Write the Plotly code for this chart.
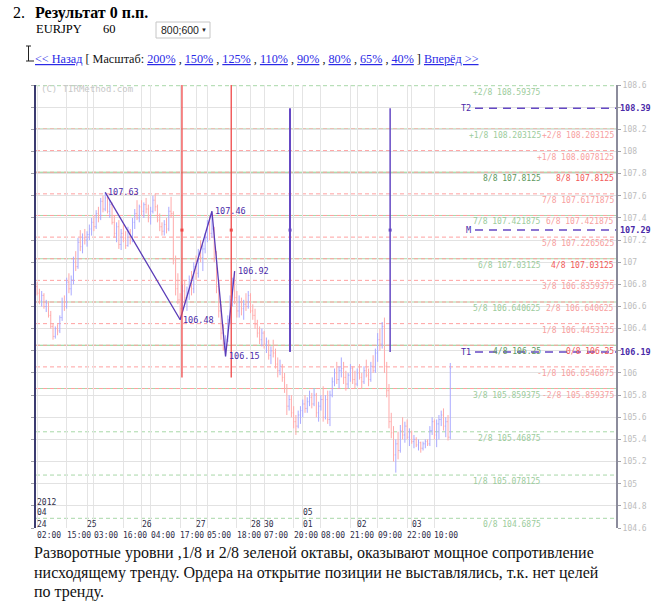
import plotly.graph_objects as go

# ---------------- data ----------------
opens = [106.78,106.72,106.65,106.70,106.60,106.63,106.52,106.42,106.33,106.40,
         106.38,106.50,106.64,106.60,106.82,106.76,106.84,107.00,106.96,107.18,
         107.14,107.22,107.20,107.25,107.30,107.36,107.32,107.44,107.40,107.55,
         107.48,107.58,107.46,107.52,107.36,107.26,107.32,107.16,107.26,107.22,
         107.15,107.28,107.20,107.36,107.44,107.40,107.50,107.46,107.52,107.48,
         107.40,107.46,107.56,107.50,107.38,107.32,107.28,107.34,107.30,107.46,
         107.44,107.02,106.76,106.66,106.58,106.74,106.68,106.72,106.84,106.76,
         106.96,106.90,107.08,107.04,107.12,107.22,107.34,107.26,107.30,107.04,
         106.78,106.56,106.36,106.26,106.30,106.48,106.66,106.80,106.68,106.56,
         106.64,106.58,106.62,106.60,106.70,106.56,106.52,106.44,106.36,106.30,
         106.36,106.26,106.28,106.16,106.20,106.18,106.08,106.02,106.06,105.96,
         105.86,105.70,105.76,105.64,105.56,105.52,105.62,105.66,105.72,105.68,
         105.74,105.78,105.72,105.80,105.64,105.70,105.76,105.60,105.76,105.58,
         105.80,105.92,106.00,105.94,106.02,106.04,105.96,105.90,105.98,106.04,
         105.94,105.90,106.00,105.96,105.92,106.02,105.98,105.94,106.06,106.02,
         106.18,106.30,106.26,106.42,106.06,105.84,105.56,105.46,105.26,105.36,
         105.30,105.48,105.44,105.52,105.42,105.46,105.38,105.40,105.35,105.37,
         105.32,105.36,105.38,105.36,105.48,105.56,105.44,105.54,105.58,105.62,
         105.52,105.56,105.42]
highs = [106.82,106.76,106.74,106.72,106.66,106.65,106.56,106.45,106.42,106.44,
         106.52,106.68,106.70,106.86,106.90,106.88,107.05,107.10,107.22,107.29,
         107.26,107.30,107.28,107.34,107.40,107.42,107.47,107.50,107.58,107.60,
         107.63,107.60,107.56,107.54,107.42,107.36,107.38,107.30,107.34,107.28,
         107.32,107.30,107.40,107.48,107.56,107.52,107.56,107.54,107.58,107.52,
         107.50,107.60,107.62,107.52,107.44,107.36,107.38,107.40,107.50,107.59,
         107.46,107.06,106.90,106.72,106.80,106.84,106.78,106.88,106.92,107.00,
         107.06,107.12,107.20,107.16,107.26,107.38,107.42,107.46,107.32,107.10,
         106.84,106.62,106.44,106.34,106.52,106.70,106.86,106.92,106.74,106.70,
         106.68,106.66,106.72,106.74,106.72,106.62,106.58,106.48,106.42,106.40,
         106.38,106.32,106.30,106.24,106.30,106.22,106.14,106.12,106.08,106.00,
         105.90,105.80,105.80,105.70,105.62,105.66,105.70,105.76,105.80,105.78,
         105.84,105.82,105.86,105.82,105.74,105.80,105.88,105.80,105.84,105.84,
         105.96,106.04,106.10,106.06,106.14,106.10,106.02,106.00,106.08,106.06,
         106.02,106.04,106.08,106.00,106.06,106.12,106.04,106.10,106.16,106.22,
         106.36,106.40,106.46,106.50,106.10,105.90,105.64,105.52,105.40,105.47,
         105.53,105.60,105.56,105.58,105.50,105.48,105.44,105.42,105.40,105.38,
         105.38,105.40,105.40,105.52,105.60,105.58,105.58,105.62,105.66,105.68,
         105.60,105.62,106.09]
lows = [106.70,106.62,106.60,106.58,106.55,106.50,106.40,106.30,106.31,106.34,
        106.36,106.47,106.56,106.58,106.72,106.70,106.80,106.92,106.94,107.10,
        107.08,107.16,107.14,107.20,107.24,107.28,107.30,107.36,107.38,107.45,
        107.46,107.44,107.40,107.34,107.22,107.18,107.12,107.11,107.18,107.12,
        107.14,107.16,107.18,107.30,107.38,107.36,107.42,107.40,107.44,107.36,
        107.34,107.44,107.46,107.36,107.28,107.24,107.24,107.26,107.28,107.40,
        106.98,106.70,106.62,106.48,106.54,106.62,106.56,106.66,106.70,106.72,
        106.84,106.86,107.00,106.92,107.08,107.18,107.20,107.22,107.00,106.72,
        106.50,106.30,106.20,106.15,106.28,106.44,106.60,106.62,106.50,106.50,
        106.52,106.48,106.56,106.58,106.54,106.48,106.40,106.32,106.26,106.24,
        106.22,106.18,106.12,106.08,106.14,106.04,105.96,105.98,105.92,105.82,
        105.62,105.66,105.60,105.50,105.44,105.50,105.54,105.60,105.64,105.64,
        105.70,105.68,105.70,105.60,105.56,105.66,105.56,105.58,105.54,105.52,
        105.78,105.88,105.90,105.86,105.96,105.90,105.84,105.86,105.92,105.90,
        105.86,105.88,105.94,105.86,105.90,105.96,105.88,105.92,106.00,106.00,
        106.10,106.20,106.22,106.00,105.78,105.50,105.41,105.20,105.10,105.22,
        105.28,105.40,105.37,105.40,105.34,105.36,105.32,105.33,105.30,105.28,
        105.30,105.32,105.34,105.34,105.44,105.40,105.33,105.40,105.52,105.48,
        105.42,105.39,105.40]
closes = [106.72,106.65,106.70,106.60,106.63,106.52,106.42,106.33,106.40,106.38,
          106.50,106.64,106.60,106.82,106.76,106.84,107.00,106.96,107.18,107.14,
          107.22,107.20,107.25,107.30,107.36,107.32,107.44,107.40,107.55,107.48,
          107.58,107.46,107.52,107.36,107.26,107.32,107.16,107.26,107.22,107.15,
          107.28,107.20,107.36,107.44,107.40,107.50,107.46,107.52,107.48,107.40,
          107.46,107.56,107.50,107.38,107.32,107.28,107.34,107.30,107.46,107.44,
          107.02,106.76,106.66,106.58,106.74,106.68,106.72,106.84,106.76,106.96,
          106.90,107.08,107.04,107.12,107.22,107.34,107.26,107.30,107.04,106.78,
          106.56,106.36,106.26,106.30,106.48,106.66,106.80,106.68,106.56,106.64,
          106.58,106.62,106.60,106.70,106.56,106.52,106.44,106.36,106.30,106.36,
          106.26,106.28,106.16,106.20,106.18,106.08,106.02,106.06,105.96,105.86,
          105.70,105.76,105.64,105.56,105.52,105.62,105.66,105.72,105.68,105.74,
          105.78,105.72,105.80,105.64,105.70,105.76,105.60,105.76,105.58,105.80,
          105.92,106.00,105.94,106.02,106.04,105.96,105.90,105.98,106.04,105.94,
          105.90,106.00,105.96,105.92,106.02,105.98,105.94,106.06,106.02,106.18,
          106.30,106.26,106.42,106.06,105.84,105.56,105.46,105.26,105.36,105.30,
          105.48,105.44,105.52,105.42,105.46,105.38,105.40,105.35,105.37,105.32,
          105.36,105.38,105.36,105.48,105.56,105.44,105.54,105.58,105.62,105.52,
          105.56,105.42,106.04]

time_tick_bars = [0, 13, 25, 38, 50, 63, 75, 88, 100, 113, 125, 138, 150, 163, 175]
time_tick_labels = ["02:00", "15:00", "03:00", "16:00", "04:00", "17:00", "05:00", "18:00",
                    "07:00", "20:00", "08:00", "21:00", "09:00", "22:00", "10:00"]
day_tick_bars = [0, 22, 46, 70, 94, 100, 117, 141, 165]
day_tick_labels = ["24", "25", "26", "27", "28", "30", "01", "02", "03"]
month_tick_bars = [0, 117]
month_tick_labels = ["04", "05"]
year_tick_bars = [0]
year_tick_labels = ["2012"]

green_names = ["0/8", "1/8", "2/8", "3/8", "4/8", "5/8", "6/8", "7/8", "8/8", "+1/8", "+2/8"]
green_levels = [104.6875, 105.078125, 105.46875, 105.859375, 106.25, 106.640625,
                107.03125, 107.421875, 107.8125, 108.203125, 108.59375]
red_names = ["-2/8", "-1/8", "0/8", "1/8", "2/8", "3/8", "4/8", "5/8", "6/8", "7/8", "8/8", "+1/8", "+2/8"]
red_levels = [105.859375, 106.0546875, 106.25, 106.4453125, 106.640625, 106.8359375,
              107.03125, 107.2265625, 107.421875, 107.6171875, 107.8125, 108.0078125, 108.203125]

target_names = ["T2", "M", "T1"]
target_levels = [108.39, 107.29, 106.19]

zigzag_bars = [30, 63, 77, 83, 87]
zigzag_prices = [107.63, 106.48, 107.46, 106.15, 106.92]

red_vline_bars = [63.8, 85.5]
red_vline_top, red_vline_bottom = 108.61, 105.96
purple_vline_bars = [111.4, 155.5]

ytick_vals = [104.6, 104.8, 105.0, 105.2, 105.4, 105.6, 105.8, 106.0, 106.2, 106.4,
              106.6, 106.8, 107.0, 107.2, 107.4, 107.6, 107.8, 108.0, 108.2, 108.4, 108.6]

title_num = "2."
title_text = "Результат 0 п.п."
symbol_text = "EURJPY"
period_text = "60"
size_text = "800;600"
scale_links = ["200%", "150%", "125%", "110%", "90%", "80%", "65%", "40%"]
paragraph = ["Разворотные уровни ,1/8 и 2/8 зеленой октавы, оказывают мощное сопротивление",
             "нисходящему тренду. Ордера на открытие позиции не выставлялись, т.к. нет целей",
             "по тренду."]

# ---------------- layout helpers ----------------
W, H = 658, 614
L, R, T, B = 36, 42, 85, 86
PW, PH = W - L - R, H - T - B


def px(x):
    return (x - L) / PW


def py(y):
    return (H - B - y) / PH


MONO = "DejaVu Sans Mono"
SERIF = "Liberation Serif"
SANS = "Liberation Sans"
PURPLE = "#6548c4"
PURPLE_TXT = "#4a2aa8"

anns = []
shapes = []


def text(t, x, y, xref="paper", yref="paper", xanchor="left", yanchor="middle",
         size=8, color="#000000", family=MONO, **kw):
    anns.append(dict(text=t, x=x, y=y, xref=xref, yref=yref, xanchor=xanchor,
                     yanchor=yanchor, showarrow=False, borderpad=0,
                     font=dict(size=size, color=color, family=family), **kw))


fig = go.Figure()

# OHLC bars
bar_index = list(range(len(closes)))
fig.add_trace(go.Ohlc(x=bar_index, open=opens, high=highs, low=lows, close=closes,
                      increasing=dict(line=dict(color="#aaaaff", width=1)),
                      decreasing=dict(line=dict(color="#ffaaaa", width=1)),
                      tickwidth=0.35, showlegend=False, hoverinfo="skip"))

# zigzag
fig.add_trace(go.Scatter(x=zigzag_bars, y=zigzag_prices, mode="lines",
                         line=dict(color="#5a3cb8", width=1.3), showlegend=False,
                         hoverinfo="skip"))
for b, p in zip(zigzag_bars, zigzag_prices):
    text(f"{p:.2f}", b, p, xref="x", yref="y", xanchor="left", yanchor="middle",
         size=8.5, color=PURPLE_TXT, xshift=2)

# vertical marker lines
for b in red_vline_bars:
    shapes.append(dict(type="line", xref="x", yref="y", x0=b, x1=b,
                       y0=red_vline_bottom, y1=red_vline_top,
                       line=dict(color="#f04848", width=1.3)))
for i, b in enumerate(purple_vline_bars):
    shapes.append(dict(type="line", xref="x", yref="y", x0=b, x1=b,
                       y0=target_levels[2], y1=target_levels[0],
                       line=dict(color=PURPLE, width=2 if i == 0 else 1.5)))
fig.add_trace(go.Scatter(x=red_vline_bars, y=[target_levels[1]] * len(red_vline_bars),
                         mode="markers", marker=dict(symbol="square", size=3,
                                                     color="#f04848", line=dict(width=0)),
                         showlegend=False, hoverinfo="skip"))
fig.add_trace(go.Scatter(x=purple_vline_bars, y=[target_levels[1]] * len(purple_vline_bars),
                         mode="markers", marker=dict(symbol="square", size=3,
                                                     color=PURPLE, line=dict(width=0)),
                         showlegend=False, hoverinfo="skip"))

# Murrey levels: green octave
green_solid = {"3/8", "4/8", "5/8", "6/8", "7/8", "8/8", "+1/8"}
green_strong = {"4/8", "8/8"}
for n, v in zip(green_names, green_levels):
    shapes.append(dict(type="line", xref="paper", yref="y", x0=0, x1=1, y0=v, y1=v,
                       layer="below",
                       line=dict(color="#8fcf8f" if n in green_strong else "#a8d8a8", width=1,
                                 dash="solid" if n in green_solid else "4px,3px")))
    text(f"{n} {v}", px(542), v, xref="paper", yref="y", xanchor="right", yanchor="top",
         size=8, color="#5e985e" if n in green_strong else "#9ccc9c", yshift=-1)

# Murrey levels: red octave
red_strong = {"0/8", "4/8", "8/8"}
for n, v in zip(red_names, red_levels):
    shapes.append(dict(type="line", xref="paper", yref="y", x0=0, x1=1, y0=v, y1=v,
                       layer="below", line=dict(color="#ffa0a0", width=1, dash="4px,3px")))
    text(f"{n} {v}", px(615), v, xref="paper", yref="y", xanchor="right", yanchor="top",
         size=8, color="#f25a5a" if n in red_strong else "#f7a0a0", yshift=-1)

# targets
for n, v in zip(target_names, target_levels):
    shapes.append(dict(type="line", xref="paper", yref="y", x0=px(475), x1=1, y0=v, y1=v,
                       line=dict(color=PURPLE, width=1.5, dash="8px,6px")))
    text(n, px(472), v, xref="paper", yref="y", xanchor="right", size=8.5, color=PURPLE_TXT)
    text(f"<b>{v:.2f}</b>", px(619), v, xref="paper", yref="y", xanchor="left",
         size=8.5, color=PURPLE_TXT)

# y tick labels (hide those replaced by target labels)
ytick_text = []
for v in ytick_vals:
    hidden = any(abs(v - t) < 0.03 for t in target_levels)
    ytick_text.append("" if hidden else f"{v:g}")

# x labels
for b, s in zip(time_tick_bars, time_tick_labels):
    text(s, b, py(535), xref="x", size=8, color="#2e2e48", xshift=-1)
for b, s in zip(day_tick_bars, day_tick_labels):
    text(s, b, py(524), xref="x", size=8, color="#2e2e48", xshift=-1)
for b, s in zip(month_tick_bars, month_tick_labels):
    text(s, b, py(512), xref="x", size=8, color="#2e2e48", xshift=-1)
for b, s in zip(year_tick_bars, year_tick_labels):
    text(s, b, py(502), xref="x", size=8, color="#2e2e48", xshift=-1)

# watermark
text("(C) TIRMethod.com", px(40), py(88.5), size=9, color="#c8c8c8")

# page header
text(title_num, px(12), py(13), size=16, family=SERIF)
text(f"<b>{title_text}</b>", px(34), py(13), size=16, family=SERIF)
text(symbol_text, px(35), py(29), size=12.5, family=SERIF)
text(period_text, px(102), py(29), size=12.5, family=SERIF)
shapes.append(dict(type="rect", xref="paper", yref="paper", x0=px(156), x1=px(210),
                   y0=py(38), y1=py(22), line=dict(color="#c6c6c6", width=1),
                   fillcolor="#ffffff"))
text(size_text, px(160), py(30), size=10.5, family=SANS, color="#222222")
text("▼", px(200), py(30), size=6, family=SANS, color="#222222")

# text cursor glyph
for (x0, y0, x1, y1) in [(28.5, 46, 28.5, 61), (26, 46, 31, 46), (26, 61, 34, 61)]:
    shapes.append(dict(type="line", xref="paper", yref="paper", x0=px(x0), x1=px(x1),
                       y0=py(y0), y1=py(y1), line=dict(color="#222222", width=1)))


def link(s):
    return f'<span style="color:#2a2ae6;text-decoration:underline">{s}</span>'


nav = (link("&lt;&lt; Назад") + " [ Масштаб: " + " , ".join(link(s) for s in scale_links)
       + " ] " + link("Вперёд &gt;&gt;"))
text(nav, px(34), py(59), size=12.2, family=SERIF, color="#111111")

for i, line in enumerate(paragraph):
    text(line, px(33), py(553 + 19.5 * i), size=16, family=SERIF, color="#111111")

fig.update_layout(
    width=W, height=H,
    margin=dict(l=L, r=R, t=T, b=B, pad=0),
    paper_bgcolor="#ffffff", plot_bgcolor="#ffffff",
    showlegend=False,
    shapes=shapes, annotations=anns,
    xaxis=dict(range=[-0.5, 255], tickvals=sorted(set(time_tick_bars + day_tick_bars)),
               showticklabels=False, ticks="", showgrid=True, gridcolor="#e4e4e4",
               gridwidth=1, zeroline=False, showline=False,
               rangeslider=dict(visible=False), fixedrange=True),
    yaxis=dict(range=[104.6, 108.6], side="right", tickvals=ytick_vals, ticktext=ytick_text,
               tickfont=dict(family=MONO, size=8, color="#bdbdbd"), ticks="outside",
               ticklen=3, tickcolor="#a0a0a8", showline=True, linecolor="#8c8c9c",
               linewidth=2, showgrid=True, gridcolor="#e2e2e2", zeroline=False,
               fixedrange=True),
    yaxis2=dict(range=[104.6, 108.6], overlaying="y", side="left", tickvals=ytick_vals,
                showticklabels=False, ticks="outside", ticklen=3, tickcolor="#a0a0a8",
                showline=True, linecolor="#3c3c70", linewidth=2, showgrid=False,
                zeroline=False, fixedrange=True),
)
fig.add_trace(go.Scatter(x=[None], y=[None], yaxis="y2", showlegend=False, hoverinfo="skip"))

fig.write_html("out.html")
